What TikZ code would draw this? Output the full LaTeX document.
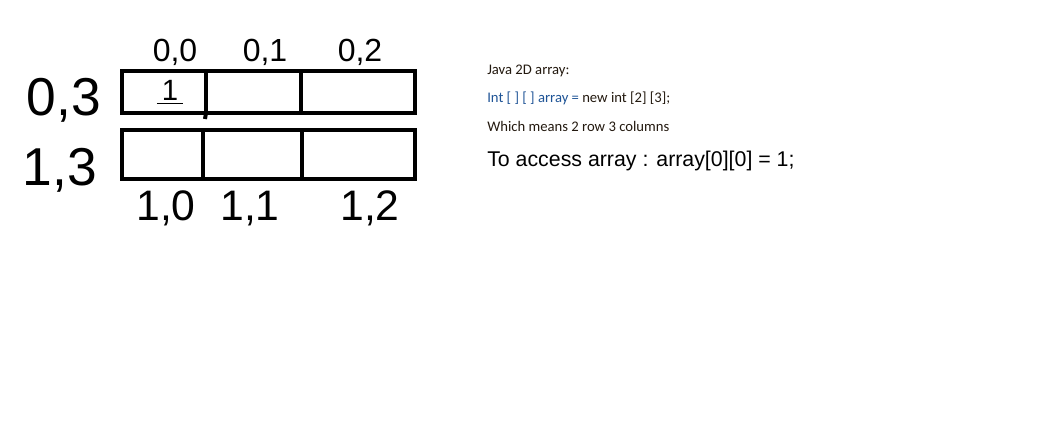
\documentclass[tikz,border=0pt]{standalone}
\usepackage{fontspec}
\usepackage{xcolor}
\usepackage{tikz}
\usetikzlibrary{positioning}
\newfontfamily\notefont{Carlito}
\newfontfamily\bigfont{Liberation Sans}
\newfontfamily\handfont{Liberation Sans}
\definecolor{codeblue}{RGB}{31,84,150}
\definecolor{textdark}{RGB}{35,25,15}

\begin{document}
\begin{tikzpicture}[
    x=0.75pt, y=-0.75pt,
    cell/.style={draw=black, line width=3pt, rectangle, inner sep=0pt, outer sep=0pt},
    toprow/.style={cell, minimum height=31.5pt},
    botrow/.style={cell, minimum height=36.75pt},
    toplbl/.style={font=\handfont\fontsize{24}{24}\selectfont, anchor=base, inner sep=0pt},
    sidelbl/.style={font=\handfont\fontsize{40}{40}\selectfont, anchor=base, inner sep=0pt},
    botlbl/.style={font=\handfont\fontsize{32}{32}\selectfont, anchor=base, inner sep=0pt},
    note/.style={font=\notefont\fontsize{11}{13}\selectfont, text=textdark, anchor=base west, inner sep=0pt},
    ink/.style={line width=3pt, black}
]
\useasboundingbox (0,0) rectangle (1039,438);

% row 0
\node[toprow, minimum width=63pt] (c00) at (164,92) {};
\node[toprow, minimum width=70.875pt, right=0pt of c00] (c01) {};
\node[toprow, minimum width=85.875pt, right=0pt of c01] (c02) {};
% row 1
\node[botrow, minimum width=60.75pt] (c10) at (162.5,154.5) {};
\node[botrow, minimum width=74.25pt, right=0pt of c10] (c11) {};
\node[botrow, minimum width=84.75pt, right=0pt of c11] (c12) {};

\draw[ink] (c00.south east) -- ++(-1,6);
\node[font=\handfont\fontsize{22}{22}\selectfont, anchor=base, inner sep=0pt] (val) at (170,101) {\underline{\,1\,}};

% index labels
\node[toplbl] (l00) at (175,62) {0,0};
\node[toplbl] (l01) at (265,62) {0,1};
\node[toplbl] (l02) at (360,62) {0,2};
\node[sidelbl] (l03) at (64,116) {0,3};
\node[sidelbl] (l13) at (60,186) {1,3};
\node[botlbl] (l10) at (166,221) {1,0};
\node[botlbl] (l11) at (250,221) {1,1};
\node[botlbl] (l12) at (370,221) {1,2};

% notes
\node[note] (title) at (487,75) {Java 2D array:};
\node[note] (decl) at (487,103) {\textcolor{codeblue}{Int [ ] [ ] array =}\ new int [2] [3];};
\node[note] (means) at (487,132) {Which means 2 row 3 columns};
\node[note, font=\bigfont\fontsize{16}{18}\selectfont, text=black] (access) at (487,167) {To access array : array[0][0] = 1;};
\end{tikzpicture}
\end{document}
